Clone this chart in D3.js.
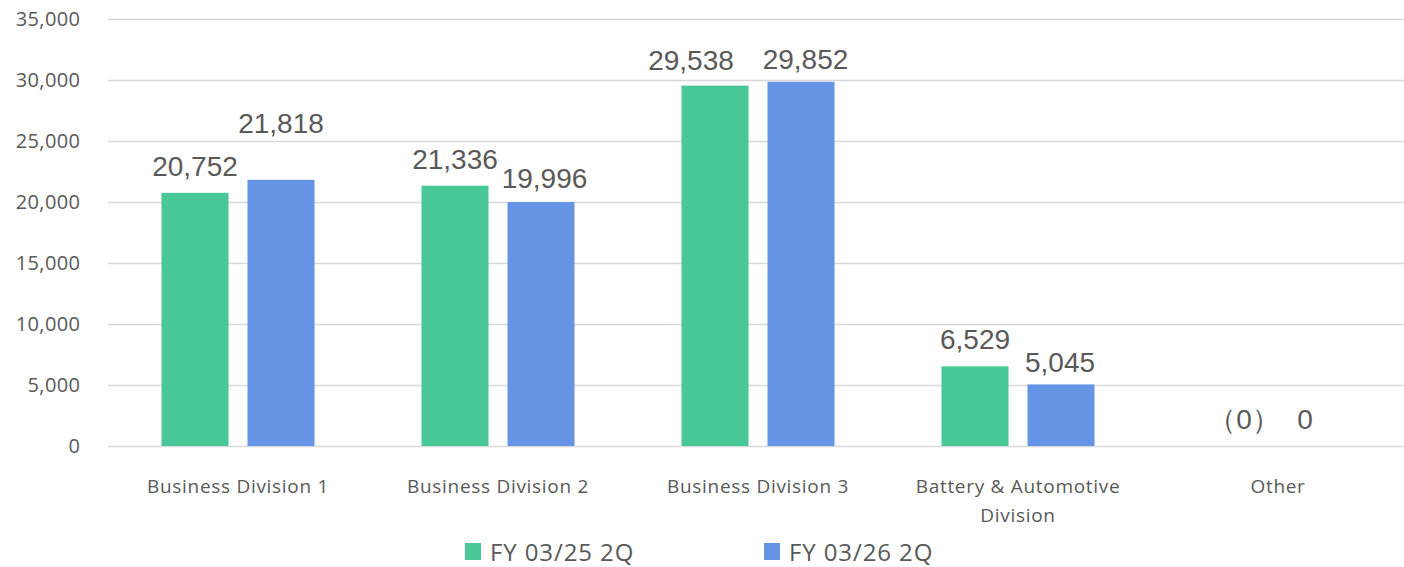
<!DOCTYPE html>
<html><head><meta charset="utf-8">
<script src="https://cdn.jsdelivr.net/npm/d3@7"></script>
<style>body{margin:0;background:#fff}svg{display:block}</style>
</head><body>
<svg id="c" width="1404" height="567"></svg>
<script>
const categories = [["Business Division 1"],["Business Division 2"],["Business Division 3"],["Battery & Automotive","Division"],["Other"]];
const seriesNames = ["FY 03/25 2Q","FY 03/26 2Q"];
const fy25 = [20752, 21336, 29538, 6529, 0];
const fy26 = [21818, 19996, 29852, 5045, 0];
const fy25Labels = ["20,752","21,336","29,538","6,529","（0）"];
const fy26Labels = ["21,818","19,996","29,852","5,045","0"];
const yTicks = [0,5000,10000,15000,20000,25000,30000,35000];
const colors = ["#48C797","#6594E5"];
// label placement nudges (px), as in the original chart
const nudgeX = [[0,0,-24,0,9],[0,3.5,4.5,-1,-16]];
const nudgeY = [[0,0,1,0,0],[-30,3,4,4.5,0]];

const svg = d3.select("#c");
const x = d3.scaleBand().domain(d3.range(categories.length)).range([108,1408]);
const y = d3.scaleLinear().domain([0,35000]).range([446,19]);
const inner = d3.scaleBand().domain([0,1]).range([0,x.bandwidth()]).paddingInner(0.221).paddingOuter(0.622);

const g = svg.append("g");
const ya = d3.axisLeft(y).tickValues(yTicks).tickFormat(d3.format(",")).tickSize(0).tickPadding(28);
const yg = g.append("g").attr("transform","translate(108,0)").call(ya);
yg.select(".domain").remove();
yg.selectAll(".tick line").attr("stroke","#d9d9d9").attr("stroke-width",1.3).attr("x1",0).attr("x2",1296);
yg.selectAll("text").attr("fill","#595959").attr("dx","0.4").style("font-family","'Open Sans', sans-serif").style("font-size","20px").style("letter-spacing","0.4px");

const data = [fy25, fy26];
const labels = [fy25Labels, fy26Labels];
data.forEach((vals, s) => {
  g.selectAll(".bar"+s).data(vals).join("rect").attr("class","bar"+s)
    .attr("x",(d,i)=>x(i)+inner(s)).attr("width",inner.bandwidth())
    .attr("y",d=>y(d)).attr("height",d=>y(0)-y(d)).attr("fill",colors[s]);
  g.selectAll(".lab"+s).data(vals).join("text").attr("class","lab"+s)
    .attr("x",(d,i)=>x(i)+inner(s)+inner.bandwidth()/2 + nudgeX[s][i])
    .attr("y",(d,i)=>y(d)-17+nudgeY[s][i]).attr("text-anchor","middle")
    .attr("fill","#595959").style("font-family","'Liberation Sans', Arial, sans-serif").style("font-size","28px")
    .text((d,i)=>labels[s][i]);
});

const xt = g.selectAll(".xl").data(categories).join("text").attr("class","xl")
  .attr("text-anchor","middle").attr("fill","#595959")
  .style("font-family","'Open Sans', sans-serif").style("font-size","19px").style("letter-spacing","0.7px")
  .attr("transform",(d,i)=>`translate(${x(i)+x.bandwidth()/2},493)`);
xt.selectAll("tspan").data(d=>d).join("tspan").attr("x",0).attr("dy",(d,j)=>j===0?0:29).text(d=>d);

const legX = [465,764];
seriesNames.forEach((n,s)=>{
  svg.append("rect").attr("x",legX[s]).attr("y",543).attr("width",16).attr("height",17).attr("fill",colors[s]);
  svg.append("text").attr("x",legX[s]+25).attr("y",561).attr("fill","#595959")
    .style("font-family","'Open Sans', sans-serif").style("font-size","24px").style("letter-spacing","0.9px").text(n);
});
</script>
</body></html>
